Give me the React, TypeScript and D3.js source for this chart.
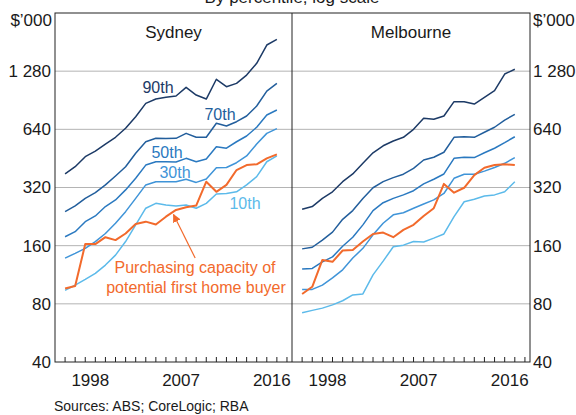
import * as d3 from "d3";

const years = [
  1996, 1997, 1998, 1999, 2000, 2001, 2002, 2003, 2004, 2005, 2006, 2007,
  2008, 2009, 2010, 2011, 2012, 2013, 2014, 2015, 2016, 2017,
];

const sydney90 = [376, 410, 462, 494, 537, 582, 648, 744, 872, 918, 937, 952, 1055, 963, 918, 1162, 1064, 1107, 1222, 1405, 1748, 1870];
const sydney70 = [240, 257, 281, 301, 330, 367, 410, 481, 552, 575, 573, 575, 610, 582, 582, 688, 666, 701, 750, 845, 1010, 1107];
const sydney50 = [178, 189, 213, 228, 255, 276, 311, 357, 418, 435, 435, 434, 453, 435, 449, 520, 511, 552, 591, 656, 759, 806];
const sydney30 = [138, 146, 155, 168, 185, 209, 240, 281, 330, 343, 343, 343, 353, 340, 354, 405, 406, 430, 466, 537, 610, 645];
const sydney10 = [94, 100, 107, 115, 127, 143, 168, 205, 250, 265, 260, 257, 260, 250, 265, 296, 298, 304, 330, 364, 435, 466];
const sydneyBuyer = [96, 99, 163, 163, 177, 171, 185, 207, 213, 206, 226, 245, 253, 258, 343, 304, 330, 394, 418, 422, 453, 475];

const melbourne90 = [247, 255, 281, 304, 343, 376, 427, 484, 526, 557, 582, 640, 730, 721, 750, 890, 890, 865, 937, 1014, 1237, 1309];
const melbourne70 = [154, 157, 171, 188, 219, 243, 281, 319, 343, 360, 375, 402, 444, 459, 487, 582, 586, 582, 618, 656, 715, 765];
const melbourne50 = [121, 122, 132, 140, 159, 177, 205, 243, 267, 281, 293, 308, 334, 353, 376, 453, 459, 457, 484, 511, 546, 586];
const melbourne30 = [95, 95, 100, 109, 120, 138, 155, 182, 209, 231, 237, 250, 263, 276, 298, 357, 375, 375, 389, 406, 427, 457];
const melbourne10 = [72, 74, 76, 79, 83, 89, 90, 113, 133, 158, 161, 168, 167, 175, 184, 226, 270, 278, 289, 293, 304, 343];
const melbourneBuyer = [90, 98, 135, 132, 151, 152, 168, 184, 187, 177, 193, 205, 228, 250, 334, 301, 319, 371, 405, 418, 422, 418];

const yTicks = [40, 80, 160, 320, 640, 1280];
const yearLabels = [1998, 2007, 2016];
const tickYears = d3.range(1996, 2019);

const colors = {
  p90: "#1c3a66",
  p70: "#225e9c",
  p50: "#2a79c0",
  p30: "#3f94d8",
  p10: "#5cbaea",
  buyer: "#f26a2c",
};

const width = 576;
const height = 415;
const top = 13;
const bottom = 362;
const left = 55;
const mid = 292;
const right = 530;
const font = "'Liberation Sans', Arial, sans-serif";
const textColor = "#1a1a1a";

const y = d3.scaleLog().base(2).domain([40, 2560]).range([bottom, top]);

type Panel = {
  name: string;
  range: [number, number];
  series: { values: number[]; color: string; width: number }[];
};

const panels: Panel[] = [
  {
    name: "Sydney",
    range: [left, mid],
    series: [
      { values: sydney90, color: colors.p90, width: 1.5 },
      { values: sydney70, color: colors.p70, width: 1.5 },
      { values: sydney50, color: colors.p50, width: 1.5 },
      { values: sydney30, color: colors.p30, width: 1.5 },
      { values: sydney10, color: colors.p10, width: 1.5 },
      { values: sydneyBuyer, color: colors.buyer, width: 2 },
    ],
  },
  {
    name: "Melbourne",
    range: [mid, right],
    series: [
      { values: melbourne90, color: colors.p90, width: 1.5 },
      { values: melbourne70, color: colors.p70, width: 1.5 },
      { values: melbourne50, color: colors.p50, width: 1.5 },
      { values: melbourne30, color: colors.p30, width: 1.5 },
      { values: melbourne10, color: colors.p10, width: 1.5 },
      { values: melbourneBuyer, color: colors.buyer, width: 2 },
    ],
  },
];

function PanelView({ panel }: { panel: Panel }) {
  const x = d3.scaleLinear().domain([1995, 2018.5]).range(panel.range);
  const line = d3
    .line<number>()
    .x((_, i) => x(years[i]))
    .y((d) => y(d));
  const cx = (panel.range[0] + panel.range[1]) / 2;

  return (
    <g>
      {tickYears.map((yr) => (
        <line
          key={yr}
          x1={x(yr)}
          x2={x(yr)}
          y1={bottom}
          y2={bottom - 5}
          stroke="#222"
          strokeWidth={1}
        />
      ))}
      {yearLabels.map((yr) => (
        <text
          key={yr}
          x={x(yr + 0.5)}
          y={386}
          textAnchor="middle"
          fontSize={17}
          fill={textColor}
        >
          {yr}
        </text>
      ))}
      <text x={cx} y={38} textAnchor="middle" fontSize={17} fill={textColor}>
        {panel.name}
      </text>
      {panel.series.map((s, i) => (
        <path
          key={i}
          d={line(s.values) ?? ""}
          fill="none"
          stroke={s.color}
          strokeWidth={s.width}
          strokeLinejoin="round"
        />
      ))}
    </g>
  );
}

export default function App() {
  const fmt = (v: number) => (v >= 1000 ? d3.format(",")(v).replace(",", " ") : String(v));
  const sx = d3.scaleLinear().domain([1995, 2018.5]).range([left, mid]);

  return (
    <svg
      width={width}
      height={height}
      style={{ position: "absolute", left: 0, top: 0, background: "#fff" }}
      fontFamily={font}
    >
      <text x={292} y={3} textAnchor="middle" fontSize={17} fill={textColor}>
        By percentile, log scale
      </text>

      {yTicks.slice(1).map((t) => (
        <line key={t} x1={left} x2={right} y1={y(t)} y2={y(t)} stroke="#b4b4b4" strokeWidth={1} />
      ))}

      {panels.map((p) => (
        <PanelView key={p.name} panel={p} />
      ))}

      <rect x={left} y={top} width={right - left} height={bottom - top} fill="none" stroke="#222" strokeWidth={1} />
      <line x1={mid} x2={mid} y1={top} y2={bottom} stroke="#222" strokeWidth={1} />

      {yTicks.map((t) => (
        <g key={t}>
          <text x={left - 4} y={y(t)} dy="0.35em" textAnchor="end" fontSize={17} fill={textColor}>
            {fmt(t)}
          </text>
          <text x={right + 3} y={y(t)} dy="0.35em" textAnchor="start" fontSize={17} fill={textColor}>
            {fmt(t)}
          </text>
        </g>
      ))}
      <text x={left - 3} y={26} textAnchor="end" fontSize={17} fill={textColor}>
        $’000
      </text>
      <text x={right + 3} y={26} textAnchor="start" fontSize={17} fill={textColor}>
        $’000
      </text>

      {/* series labels, Sydney panel */}
      <g fontSize={16} textAnchor="middle">
        <text x={158} y={93} fill={colors.p90}>90th</text>
        <text x={220} y={120} fill={colors.p70}>70th</text>
        <text x={167} y={158} fill={colors.p50}>50th</text>
        <text x={175} y={178} fill={colors.p30}>30th</text>
        <text x={245} y={209} fill={colors.p10}>10th</text>
        <text x={195} y={273} fill={colors.buyer}>Purchasing capacity of</text>
        <text x={196} y={293} fill={colors.buyer}>potential first home buyer</text>
      </g>

      <defs>
        <marker id="arrow" viewBox="0 0 10 10" refX={9} refY={5} markerWidth={7} markerHeight={7} orient="auto">
          <path d="M0,0 L10,5 L0,10 z" fill={colors.buyer} />
        </marker>
      </defs>
      <line
        x1={sx(2008.9)}
        y1={y(138)}
        x2={sx(2006.75)}
        y2={y(232)}
        stroke={colors.buyer}
        strokeWidth={1.2}
        markerEnd="url(#arrow)"
      />

      <text x={54} y={411} fontSize={14} fill={textColor}>
        Sources: ABS; CoreLogic; RBA
      </text>
    </svg>
  );
}
